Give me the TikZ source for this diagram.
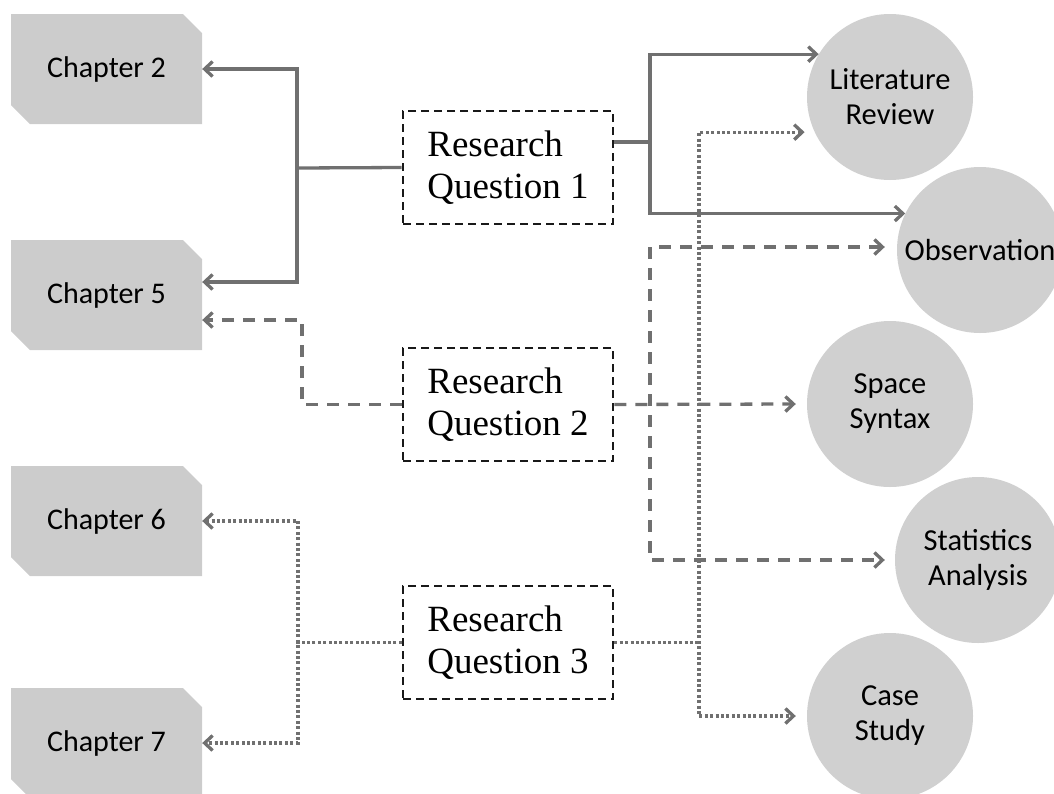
\documentclass[tikz,border=0pt]{standalone}
\usepackage{fontspec}
\newfontfamily\labelfont{Carlito}
\newfontfamily\rqfont{Liberation Serif}
\usetikzlibrary{arrows.meta}

\definecolor{boxgray}{RGB}{204,204,204}
\definecolor{discgray}{RGB}{208,208,208}
\definecolor{linkgray}{RGB}{112,112,112}

\begin{document}
\begin{tikzpicture}[x=1pt,y=-1pt,
  >={Straight Barb[length=8pt,width=15pt]},
  chapterbox/.style={rectangle, fill=white, minimum width=191pt, minimum height=110pt,
    inner sep=0pt, font=\labelfont\fontsize{30}{36}\selectfont,
    path picture={\fill[boxgray] (path picture bounding box.north west)
      -- ([xshift=-19pt]path picture bounding box.north east)
      -- ([yshift=-19pt]path picture bounding box.north east)
      -- (path picture bounding box.south east)
      -- ([xshift=19pt]path picture bounding box.south west)
      -- ([yshift=19pt]path picture bounding box.south west) -- cycle;}},
  disc/.style={circle, fill=discgray, minimum size=166pt, inner sep=0pt,
    align=center, font=\labelfont\fontsize{30.5}{35}\selectfont},
  rqbox/.style={rectangle, draw=black!90, line width=2.6pt, dash pattern=on 8pt off 5pt,
    minimum width=210pt, minimum height=113pt, inner sep=0pt, align=left,
    font=\rqfont\fontsize{37}{42}\selectfont},
  link/.style={draw=linkgray, line width=3.3pt},
  solidlink/.style={link},
  dashedlink/.style={link, dash pattern=on 12pt off 9pt},
  dottedlink/.style={link, dash pattern=on 3pt off 2.4pt}
]
\path[use as bounding box] (0,0) rectangle (1054,793);

% chapter boxes on the left
\node[chapterbox] (ch2) at (106.5,69)  {Chapter 2};
\node[chapterbox] (ch5) at (106.5,295) {Chapter 5};
\node[chapterbox] (ch6) at (106.5,521) {Chapter 6};
\node[chapterbox] (ch7) at (106.5,743) {Chapter 7};

% research questions in the middle
\node[rqbox] (rq1) at (508,167.5) {Research\\Question 1};
\node[rqbox] (rq2) at (508,404.5) {Research\\Question 2};
\node[rqbox] (rq3) at (508,642.5) {Research\\Question 3};

% methods on the right
\node[disc] (lit)   at (890,97)  {Literature\\Review};
\node[disc] (obs)   at (980,250) {Observation};
\node[disc] (space) at (890,404) {Space\\Syntax};
\node[disc] (stat)  at (978,560) {Statistics\\Analysis};
\node[disc] (case)  at (890,716) {Case\\Study};

% branch points
\coordinate (sL) at (297,168);
\coordinate (sR) at (650,142);
\coordinate (dL) at (302,404.5);
\coordinate (dR1) at (650,247);
\coordinate (dR2) at (650,560);
\coordinate (tL) at (298,642.5);
\coordinate (tR) at (699,642.5);

% question 1: solid
\draw[solidlink] (rq1.west) -- (sL);
\draw[solidlink,<->] (ch2.east) -| (sL) |- ([yshift=13pt]ch5.east);
\draw[solidlink] ([yshift=25.5pt]rq1.east) -- (sR);
\draw[solidlink,<->] (lit.149) -| (sR) |- (obs.154);

% question 2: dashed
\draw[dashedlink,->] (rq2.west) -- (dL) |- ([yshift=-25pt]ch5.east);
\draw[dashedlink,->] (rq2.east) -- ([xshift=-11pt]space.west);
\draw[dashedlink,<->] ([xshift=-12pt,yshift=3pt]obs.west) -- (dR1) -- (dR2) -- ([xshift=-10pt]stat.west);

% question 3: dotted
\draw[dottedlink] (rq3.west) -- (tL);
\draw[dottedlink,<->] (ch6.east) -| (tL) |- (ch7.east);
\draw[dottedlink] (rq3.east) -- (tR);
\draw[dottedlink,<->] ([xshift=-10pt]lit.205) -| (tR) |- ([xshift=-11pt]case.west);
\end{tikzpicture}
\end{document}
